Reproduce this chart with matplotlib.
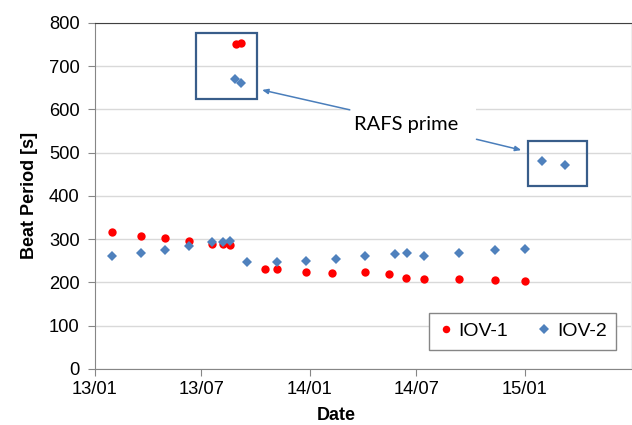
"""beat period of the IOV clocks over time"""
import datetime as dt
import matplotlib
matplotlib.use("Agg")
import matplotlib.pyplot as plt
import matplotlib.dates as mdates
from matplotlib.patches import Rectangle

RED = "#ff0000"
BLUE = "#4f81bd"
BOXBLUE = "#385d8a"

iov1_dates = ["2013-01-30", "2013-03-21", "2013-05-01", "2013-06-10", "2013-07-19",
              "2013-08-07", "2013-08-18", "2013-08-28", "2013-09-07", "2013-10-17",
              "2013-11-06", "2013-12-26", "2014-02-07", "2014-04-05", "2014-05-15",
              "2014-06-14", "2014-07-14", "2014-09-12", "2014-11-11", "2015-01-01"]
iov1_period = [316, 308, 302, 296, 289, 288, 286, 751, 754, 232,
               230, 225, 221, 224, 220, 211, 208, 207, 206, 204]

iov2_dates = ["2013-01-30", "2013-03-21", "2013-05-01", "2013-06-10", "2013-07-19",
              "2013-08-07", "2013-08-18", "2013-08-27", "2013-09-07", "2013-09-17",
              "2013-11-06", "2013-12-26", "2014-02-14", "2014-04-05", "2014-05-26",
              "2014-06-15", "2014-07-14", "2014-09-12", "2014-11-11", "2015-01-01",
              "2015-01-30", "2015-03-11"]
iov2_period = [262, 267, 276, 284, 293, 294, 296, 670, 660, 248,
               247, 250, 255, 260, 266, 267, 262, 268, 275, 278,
               480, 471]

tick_dates = ["2013-01-01", "2013-07-01", "2014-01-01", "2014-07-01", "2015-01-01"]


def d(s):
    return dt.datetime.strptime(s, "%Y-%m-%d")


plt.rcParams["font.family"] = ["Liberation Sans", "DejaVu Sans"]

fig = plt.figure(figsize=(6.32, 4.25), dpi=100)
ax = fig.add_axes([0.150, 0.132, 0.849, 0.814])

ax.plot([d(s) for s in iov1_dates], iov1_period, "o", color=RED,
        markersize=6, markeredgewidth=0, label="IOV-1", zorder=4)
ax.plot([d(s) for s in iov2_dates], iov2_period, "D", color=BLUE,
        markersize=5.4, markeredgewidth=0, label="IOV-2", zorder=4)

ax.set_xlim(d("2013-01-01"), d("2015-07-01"))
ax.set_ylim(0, 800)
ax.set_yticks(range(0, 801, 100))
ax.set_xticks([d(s) for s in tick_dates])
ax.xaxis.set_major_formatter(mdates.DateFormatter("%y/%m"))

ax.grid(axis="y", color="#d9d9d9", linewidth=1)
ax.set_axisbelow(True)
for side in ("left", "bottom"):
    ax.spines[side].set_color("#868686")
ax.spines["top"].set_color("#404040")
ax.spines["right"].set_color("#eeeeee")
ax.tick_params(axis="both", colors="#868686", labelcolor="black",
               labelsize=13.2, length=5, direction="out")
ax.tick_params(axis="x", pad=4)
ax.tick_params(axis="y", pad=6)

ax.set_ylabel("Beat Period [s]", fontsize=13, fontweight="bold")
ax.yaxis.set_label_coords(-0.106, 0.5)
ax.set_xlabel("Date", fontsize=13, fontweight="bold")
ax.xaxis.set_label_coords(0.45, -0.11)

# boxes round the RAFS prime points
for x0, x1, y0, y1 in [("2013-06-22", "2013-10-03", 624, 776),
                       ("2015-01-06", "2015-04-17", 423, 528)]:
    ax.add_patch(Rectangle((mdates.date2num(d(x0)), y0),
                           mdates.date2num(d(x1)) - mdates.date2num(d(x0)), y1 - y0,
                           fill=False, edgecolor=BOXBLUE, linewidth=1.6, zorder=3))

# white text box with label and arrows
ax.add_patch(Rectangle((mdates.date2num(d("2014-03-10")), 525),
                       mdates.date2num(d("2014-10-11")) - mdates.date2num(d("2014-03-10")), 87,
                       facecolor="white", edgecolor="none", zorder=2))
ax.text(d("2014-06-14"), 566, "RAFS prime", fontsize=14.5, family=["Lato", "DejaVu Sans"],
        ha="center", va="center", zorder=5)
arrow = dict(arrowstyle="-|>,head_length=0.35,head_width=0.15", color="#4a7ebb", lw=1.1,
             shrinkA=0, shrinkB=0)
ax.annotate("", xy=(d("2013-10-12"), 645), xytext=(d("2014-03-10"), 599),
            arrowprops=arrow, zorder=5)
ax.annotate("", xy=(d("2014-12-26"), 506), xytext=(d("2014-10-11"), 531),
            arrowprops=arrow, zorder=5)

leg = ax.legend(loc="lower right", bbox_to_anchor=(0.972, 0.055), ncol=2,
                fontsize=14, frameon=True, fancybox=False, framealpha=1,
                edgecolor="#868686", handlelength=0.7, handletextpad=0.3,
                columnspacing=1.5, borderpad=0.5, borderaxespad=0,
                markerscale=0.9)
leg.get_frame().set_linewidth(1)

fig.savefig("out.png", dpi=100)
